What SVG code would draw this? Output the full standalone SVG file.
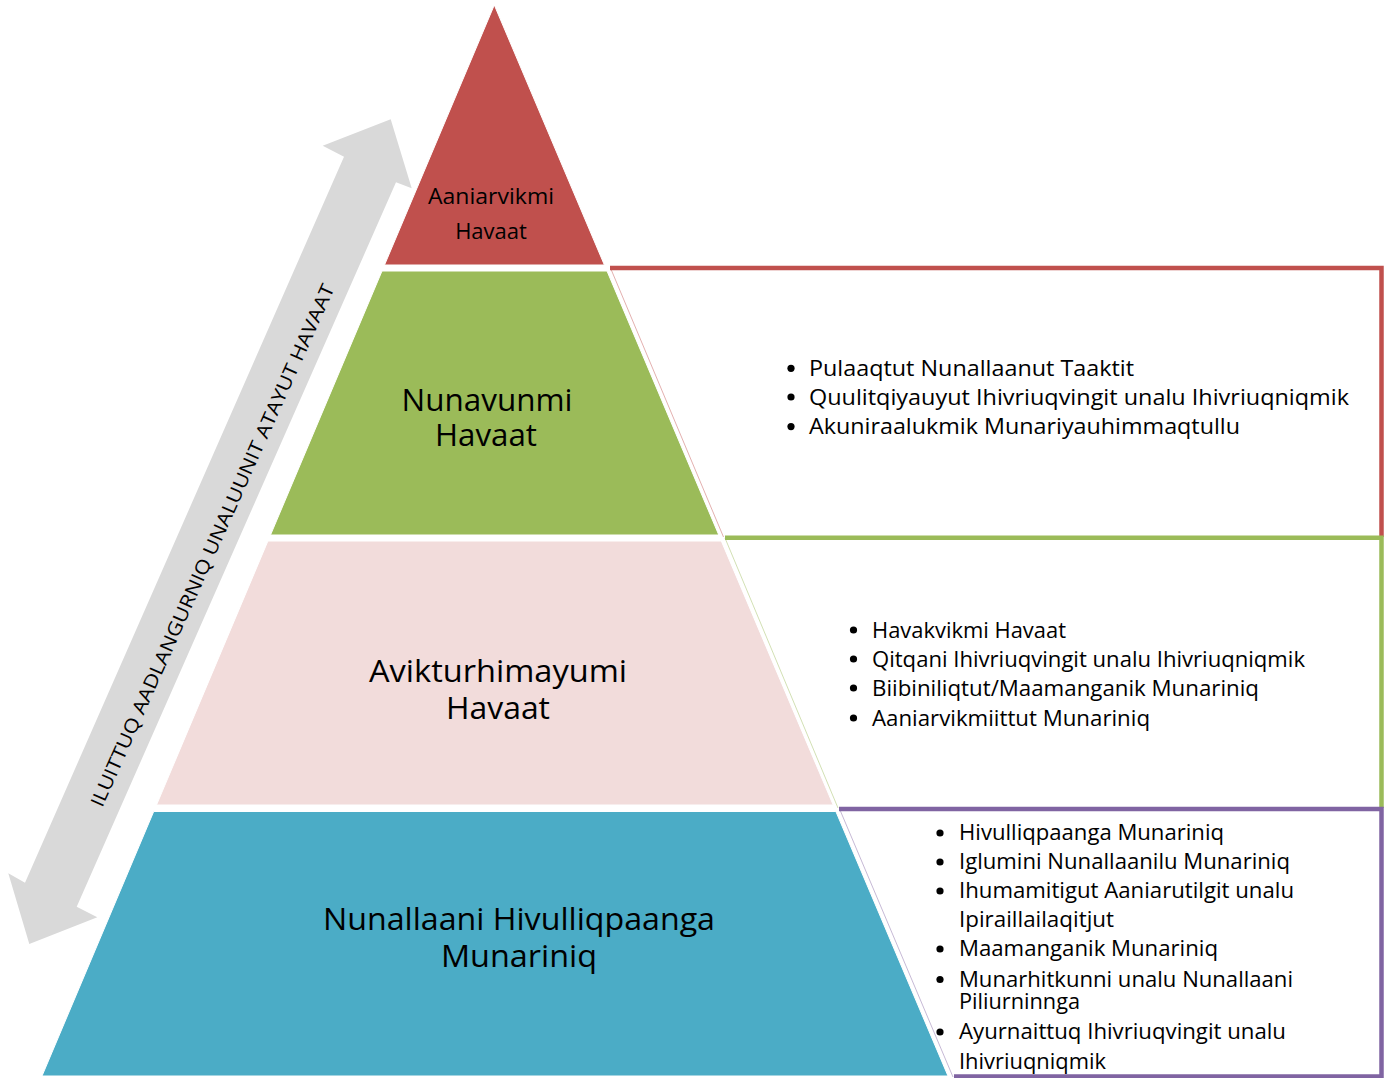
<svg xmlns="http://www.w3.org/2000/svg" width="1389" height="1078" viewBox="0 0 1389 1078">
<style>
  .lbl { font-family: "Open Sans", "Liberation Sans", sans-serif; fill: #000; text-anchor: middle; }
  .bul { font-family: "Open Sans", "Liberation Sans", sans-serif; font-size: 21px; fill: #000; }
  .dot { fill: #000; }
  .layer { stroke: #ffffff; stroke-width: 1; }
  .boxline { fill: none; stroke-width: 4.5; stroke-linejoin: miter; }
  .thin { fill: none; stroke-width: 1; opacity: 0.45; }
</style>
<rect x="0" y="0" width="1389" height="1078" fill="#ffffff"/>

<g id="connectors">
  <polygon id="scale-arrow" fill="#d9d9d9" points="390.7,119.3 411.7,188.3 396,182.3 76.7,906.7 97.3,917.3 29.3,944 8.3,873.3 25,882.7 344,156.7 322.7,145.7"/>
  <text class="lbl" font-size="19" transform="translate(218.5,548) rotate(-65.9)" textLength="570" lengthAdjust="spacingAndGlyphs">ILUITTUQ AADLANGURNIQ UNALUUNIT ATAYUT HAVAAT</text>
</g>

<g id="box-top">
  <path class="boxline" stroke="#c0504d" d="M610,268 H1381.5 V537"/>
  <path class="thin" stroke="#c0504d" d="M610.5,268 L723.5,537"/>
  <circle class="dot" cx="791" cy="368.3" r="3.6"/>
  <circle class="dot" cx="791" cy="397" r="3.6"/>
  <circle class="dot" cx="791" cy="426.6" r="3.6"/>
  <text class="bul" x="809" y="376" textLength="325" lengthAdjust="spacingAndGlyphs">Pulaaqtut Nunallaanut Taaktit</text>
  <text class="bul" x="809" y="404.5" textLength="540" lengthAdjust="spacingAndGlyphs">Quulitqiyauyut Ihivriuqvingit unalu Ihivriuqniqmik</text>
  <text class="bul" x="809" y="434.3" textLength="431" lengthAdjust="spacingAndGlyphs">Akuniraalukmik Munariyauhimmaqtullu</text>
</g>

<g id="box-middle">
  <path class="boxline" stroke="#9bbb59" d="M725,537.8 H1381.5 V808"/>
  <path class="thin" stroke="#9bbb59" d="M725,538 L838,808"/>
  <circle class="dot" cx="853.5" cy="630" r="3.6"/>
  <circle class="dot" cx="853.5" cy="659" r="3.6"/>
  <circle class="dot" cx="853.5" cy="688" r="3.6"/>
  <circle class="dot" cx="853.5" cy="718" r="3.6"/>
  <text class="bul" x="872" y="637.5" textLength="194" lengthAdjust="spacingAndGlyphs">Havakvikmi Havaat</text>
  <text class="bul" x="872" y="666.5" textLength="433" lengthAdjust="spacingAndGlyphs">Qitqani Ihivriuqvingit unalu Ihivriuqniqmik</text>
  <text class="bul" x="872" y="695.5" textLength="387" lengthAdjust="spacingAndGlyphs">Biibiniliqtut/Maamanganik Munariniq</text>
  <text class="bul" x="872" y="725.5" textLength="278" lengthAdjust="spacingAndGlyphs">Aaniarvikmiittut Munariniq</text>
</g>

<g id="box-bottom">
  <path class="boxline" stroke="#8064a2" d="M839,809 H1381.5 V1076.5 H954"/>
  <path class="thin" stroke="#8064a2" d="M840,810 L953,1077"/>
  <circle class="dot" cx="940" cy="833" r="3.6"/>
  <circle class="dot" cx="940" cy="862" r="3.6"/>
  <circle class="dot" cx="940" cy="891" r="3.6"/>
  <circle class="dot" cx="940" cy="949" r="3.6"/>
  <circle class="dot" cx="940" cy="979.5" r="3.6"/>
  <circle class="dot" cx="940" cy="1032" r="3.6"/>
  <text class="bul" x="959" y="840" textLength="265" lengthAdjust="spacingAndGlyphs">Hivulliqpaanga Munariniq</text>
  <text class="bul" x="959" y="869.3" textLength="331" lengthAdjust="spacingAndGlyphs">Iglumini Nunallaanilu Munariniq</text>
  <text class="bul" x="959" y="898.3" textLength="335" lengthAdjust="spacingAndGlyphs">Ihumamitigut Aaniarutilgit unalu</text>
  <text class="bul" x="959" y="926.7" textLength="155" lengthAdjust="spacingAndGlyphs">Ipiraillailaqitjut</text>
  <text class="bul" x="959" y="956" textLength="259" lengthAdjust="spacingAndGlyphs">Maamanganik Munariniq</text>
  <text class="bul" x="959" y="986.7" textLength="334" lengthAdjust="spacingAndGlyphs">Munarhitkunni unalu Nunallaani</text>
  <text class="bul" x="959" y="1009.3" textLength="121" lengthAdjust="spacingAndGlyphs">Piliurninnga</text>
  <text class="bul" x="959" y="1039" textLength="327" lengthAdjust="spacingAndGlyphs">Ayurnaittuq Ihivriuqvingit unalu</text>
  <text class="bul" x="959" y="1068.7" textLength="147" lengthAdjust="spacingAndGlyphs">Ihivriuqniqmik</text>
</g>

<g id="layer-top">
  <polygon class="layer" fill="#c0504d" points="494.3,5 604.4,265 384.5,265"/>
  <text class="lbl" font-size="22" x="491" y="204" textLength="126" lengthAdjust="spacingAndGlyphs">Aaniarvikmi</text>
  <text class="lbl" font-size="22" x="491" y="239">Havaat</text>
</g>

<g id="layer-second">
  <polygon class="layer" fill="#9bbb59" points="382,271 607,271 718.8,535 270.5,535"/>
  <text class="lbl" font-size="31" x="487" y="410.7" textLength="171" lengthAdjust="spacingAndGlyphs">Nunavunmi</text>
  <text class="lbl" font-size="31" x="486" y="446" textLength="102" lengthAdjust="spacingAndGlyphs">Havaat</text>
</g>

<g id="layer-third">
  <polygon class="layer" fill="#f2dcdb" points="267.9,541 721.3,541 833.2,805 156.5,805"/>
  <text class="lbl" font-size="31" x="498" y="682" textLength="258" lengthAdjust="spacingAndGlyphs">Avikturhimayumi</text>
  <text class="lbl" font-size="31" x="498" y="719" textLength="104" lengthAdjust="spacingAndGlyphs">Havaat</text>
</g>

<g id="layer-base">
  <polygon class="layer" fill="#4bacc6" points="153.7,811.5 835.9,811.5 948,1076 42,1076"/>
  <text class="lbl" font-size="31" x="519" y="930" textLength="392" lengthAdjust="spacingAndGlyphs">Nunallaani Hivulliqpaanga</text>
  <text class="lbl" font-size="31" x="519" y="967" textLength="156" lengthAdjust="spacingAndGlyphs">Munariniq</text>
</g>
</svg>
